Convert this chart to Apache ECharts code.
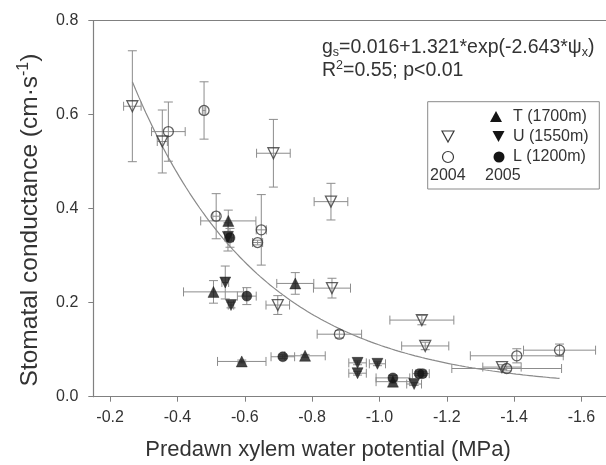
<!DOCTYPE html>
<html>
<head>
<meta charset="utf-8">
<script src="https://cdn.jsdelivr.net/npm/echarts@6/dist/echarts.min.js"></script>
<style>
  html, body { margin: 0; padding: 0; background: #fff; }
  #chart { width: 606px; height: 465px; }
</style>
</head>
<body>
<div id="chart"></div>
<script>
// Predawn xylem water potential (MPa) vs stomatal conductance (cm·s-1)
// Each group: psi, gs, and the +/- error on each.

// U (1550m), 2004 - open down-triangles
const u04Psi    = [-0.266, -0.355, -0.685, -0.856, -0.859, -0.698, -1.126, -1.136, -1.364];
const u04Gs     = [0.618, 0.543, 0.518, 0.415, 0.231, 0.195, 0.163, 0.108, 0.063];
const u04PsiErr = [0.026, 0.015, 0.050, 0.050, 0.055, 0.035, 0.095, 0.070, 0.057];
const u04GsErr  = [0.118, 0.067, 0.072, 0.039, 0.021, 0.020, 0.010, 0.008, 0.005];

// L (1200m), 2004 - open circles
const l04Psi    = [-0.373, -0.479, -0.515, -0.649, -0.638, -0.881, -1.408, -1.535, -1.378];
const l04Gs     = [0.564, 0.609, 0.384, 0.355, 0.328, 0.133, 0.087, 0.099, 0.060];
const l04PsiErr = [0.050, 0.005, 0.010, 0.015, 0.015, 0.066, 0.138, 0.107, 0.163];
const l04GsErr  = [0.063, 0.061, 0.048, 0.075, 0.005, 0.008, 0.015, 0.013, 0.005];

// T (1700m), 2005 - filled up-triangles
const t05Psi    = [-0.551, -0.750, -0.507, -0.591, -0.779, -1.040];
const t05Gs     = [0.374, 0.241, 0.223, 0.075, 0.087, 0.032];
const t05PsiErr = [0.082, 0.055, 0.089, 0.072, 0.060, 0.050];
const t05GsErr  = [0.023, 0.023, 0.024, 0.003, 0.003, 0.003];

// U (1550m), 2005 - filled down-triangles
const u05Psi    = [-0.550, -0.542, -0.559, -0.935, -0.935, -0.994, -1.103];
const u05Gs     = [0.340, 0.243, 0.195, 0.072, 0.050, 0.070, 0.027];
const u05PsiErr = [0.010, 0.010, 0.008, 0.026, 0.026, 0.024, 0.022];
const u05GsErr  = [0.030, 0.035, 0.006, 0.004, 0.004, 0.004, 0.003];

// L (1200m), 2005 - filled circles
const l05Psi    = [-0.556, -0.606, -0.713, -1.040, -1.118, -1.128];
const l05Gs     = [0.338, 0.214, 0.085, 0.040, 0.049, 0.049];
const l05PsiErr = [0.010, 0.028, 0.035, 0.050, 0.020, 0.020];
const l05GsErr  = [0.020, 0.018, 0.004, 0.005, 0.004, 0.004];

// Fitted model gs = a + b*exp(-c*|psi|), as printed on the chart
const fitA = 0.016, fitB = 1.321, fitC = 2.643;
const fitFrom = -0.266, fitTo = -1.535;

// Axis ticks
const xTicks = [-0.2, -0.4, -0.6, -0.8, -1.0, -1.2, -1.4, -1.6];
const yTicks = [0.0, 0.2, 0.4, 0.6, 0.8];

const FONT = '"Liberation Sans", Arial, sans-serif';
const TEXT = '#333';
const AXIS = '#808080';
const ERR = '#8c8c8c';

function points(psi, gs) { return psi.map((p, i) => [p, gs[i]]); }
function errRows(psi, gs, pe, ge) { return psi.map((p, i) => [p, gs[i], pe[i], ge[i]]); }

function renderErr(params, api) {
  const x = api.value(0), y = api.value(1), xe = api.value(2), ye = api.value(3);
  const c = api.coord([x, y]);
  const cap = 4.5;
  const st = { stroke: ERR, lineWidth: 1 };
  const kids = [];
  const ln = (x1, y1, x2, y2) => ({ type: 'line', shape: { x1, y1, x2, y2 }, style: st });
  if (ye > 0) {
    const t = api.coord([x, y + ye]), b = api.coord([x, y - ye]);
    kids.push(ln(c[0], t[1], c[0], b[1]));
    kids.push(ln(c[0] - cap, t[1], c[0] + cap, t[1]));
    kids.push(ln(c[0] - cap, b[1], c[0] + cap, b[1]));
  }
  if (xe > 0) {
    const l = api.coord([x - xe, y]), r = api.coord([x + xe, y]);
    kids.push(ln(l[0], c[1], r[0], c[1]));
    kids.push(ln(l[0], c[1] - cap, l[0], c[1] + cap));
    kids.push(ln(r[0], c[1] - cap, r[0], c[1] + cap));
  }
  return { type: 'group', children: kids };
}

function errSeries(rows) {
  return { type: 'custom', renderItem: renderErr, data: rows, z: 2, silent: true,
           encode: { x: 0, y: 1 }, clip: false };
}

const fitData = [];
for (let p = fitFrom; p >= fitTo - 1e-9; p -= 0.01) {
  fitData.push([p, fitA + fitB * Math.exp(-fitC * Math.abs(p))]);
}
fitData.push([fitTo, fitA + fitB * Math.exp(-fitC * Math.abs(fitTo))]);

const openStyle = { color: 'rgba(255,255,255,0)', borderColor: '#3a3a3a', borderWidth: 1.3 };
const fillStyle = { color: '#151515', borderColor: '#151515', borderWidth: 0.5 };

const chart = echarts.init(document.getElementById('chart'), null, { renderer: 'canvas' });

const xMin = -1.673, xMax = -0.150;

chart.setOption({
  animation: false,
  backgroundColor: '#fff',
  grid: { left: 93.3, right: 0, top: 20.7, bottom: 68.3 },
  xAxis: [{
    type: 'value', inverse: true, min: xMin, max: xMax,
    axisLine: { lineStyle: { color: AXIS, width: 1.2 } },
    axisTick: { customValues: xTicks, length: 5, inside: false, lineStyle: { color: AXIS } },
    axisLabel: { customValues: xTicks, formatter: v => v.toFixed(1), margin: 13,
                 fontFamily: FONT, fontSize: 16, color: TEXT },
    splitLine: { show: false }
  }, {
    type: 'value', position: 'top', inverse: true, min: xMin, max: xMax,
    axisLine: { show: true, onZero: false, lineStyle: { color: AXIS, width: 1.2 } },
    axisTick: { show: false }, axisLabel: { show: false }, splitLine: { show: false }
  }],
  yAxis: {
    type: 'value', min: 0, max: 0.8, interval: 0.2,
    axisLine: { show: true, lineStyle: { color: AXIS, width: 1.2 } },
    axisTick: { show: true, length: 5, lineStyle: { color: AXIS } },
    axisLabel: { formatter: v => v.toFixed(1), margin: 15, fontFamily: FONT, fontSize: 16, color: TEXT },
    splitLine: { show: false }
  },
  series: [
    { type: 'line', data: fitData, showSymbol: false, smooth: false, z: 1,
      lineStyle: { color: '#8a8a8a', width: 1.2 }, silent: true },
    errSeries(errRows(u04Psi, u04Gs, u04PsiErr, u04GsErr)),
    errSeries(errRows(l04Psi, l04Gs, l04PsiErr, l04GsErr)),
    errSeries(errRows(t05Psi, t05Gs, t05PsiErr, t05GsErr)),
    errSeries(errRows(u05Psi, u05Gs, u05PsiErr, u05GsErr)),
    errSeries(errRows(l05Psi, l05Gs, l05PsiErr, l05GsErr)),
    { name: 'U 2004', type: 'scatter', data: points(u04Psi, u04Gs), symbol: 'triangle',
      symbolRotate: 180, symbolSize: 11, itemStyle: openStyle, z: 5 },
    { name: 'L 2004', type: 'scatter', data: points(l04Psi, l04Gs), symbol: 'circle',
      symbolSize: 10, itemStyle: openStyle, z: 5 },
    { name: 'T 2005', type: 'scatter', data: points(t05Psi, t05Gs), symbol: 'triangle',
      symbolSize: 11, itemStyle: fillStyle, z: 5 },
    { name: 'U 2005', type: 'scatter', data: points(u05Psi, u05Gs), symbol: 'triangle',
      symbolRotate: 180, symbolSize: 11, itemStyle: fillStyle, z: 5 },
    { name: 'L 2005', type: 'scatter', data: points(l05Psi, l05Gs), symbol: 'circle',
      symbolSize: 10, itemStyle: fillStyle, z: 5 }
  ],
  graphic: [
    // fitted equation
    { type: 'text', x: 322, y: 36, z: 10, style: {
        text: '{n|g}{s|s}{n|=0.016+1.321*exp(-2.643*ψ}{s|x}{n|)}\n{n|R}{p|2}{n|=0.55; p<0.01}',
        rich: {
          n: { fontFamily: FONT, fontSize: 19.5, fill: TEXT, lineHeight: 23 },
          s: { fontFamily: FONT, fontSize: 12.5, fill: TEXT, lineHeight: 23, verticalAlign: 'bottom' },
          p: { fontFamily: FONT, fontSize: 12.5, fill: TEXT, lineHeight: 23, verticalAlign: 'top' }
        } } },
    // y-axis title
    { type: 'text', x: 30, y: 220, rotation: Math.PI / 2, z: 10, style: {
        text: '{t|Stomatal conductance (cm·s}{u|-1}{t|)}', align: 'center', verticalAlign: 'middle',
        rich: {
          t: { fontFamily: FONT, fontSize: 24.5, fill: TEXT, lineHeight: 28 },
          u: { fontFamily: FONT, fontSize: 16, fill: TEXT, lineHeight: 28, verticalAlign: 'top' }
        } } },
    // x-axis title
    { type: 'text', x: 328, y: 450, z: 10, style: {
        text: 'Predawn xylem water potential (MPa)', align: 'center', verticalAlign: 'middle',
        font: '22px ' + FONT, fill: TEXT } },
    // legend box
    { type: 'rect', z: 8, shape: { x: 427.7, y: 101.7, width: 171.6, height: 87.3 },
      style: { fill: '#fff', stroke: '#8a8a8a', lineWidth: 1 } },
    { type: 'polygon', z: 9, shape: { points: [[496, 111], [502, 122], [490, 122]] }, style: { fill: '#151515' } },
    { type: 'polygon', z: 9, shape: { points: [[442, 131], [454, 131], [448, 142]] },
      style: { fill: 'none', stroke: '#3a3a3a', lineWidth: 1.2 } },
    { type: 'polygon', z: 9, shape: { points: [[492.5, 131], [504.5, 131], [498.5, 142]] }, style: { fill: '#151515' } },
    { type: 'circle', z: 9, shape: { cx: 448, cy: 157, r: 5.5 }, style: { fill: 'none', stroke: '#3a3a3a', lineWidth: 1.2 } },
    { type: 'circle', z: 9, shape: { cx: 499, cy: 157, r: 5.5 }, style: { fill: '#151515' } },
    { type: 'text', z: 9, x: 513, y: 117, style: { text: 'T (1700m)', verticalAlign: 'middle', font: '16px ' + FONT, fill: TEXT } },
    { type: 'text', z: 9, x: 513, y: 137, style: { text: 'U (1550m)', verticalAlign: 'middle', font: '16px ' + FONT, fill: TEXT } },
    { type: 'text', z: 9, x: 513, y: 157, style: { text: 'L (1200m)', verticalAlign: 'middle', font: '16px ' + FONT, fill: TEXT } },
    { type: 'text', z: 9, x: 430, y: 176, style: { text: '2004', verticalAlign: 'middle', font: '16px ' + FONT, fill: TEXT } },
    { type: 'text', z: 9, x: 485, y: 176, style: { text: '2005', verticalAlign: 'middle', font: '16px ' + FONT, fill: TEXT } }
  ]
});
</script>
</body>
</html>
